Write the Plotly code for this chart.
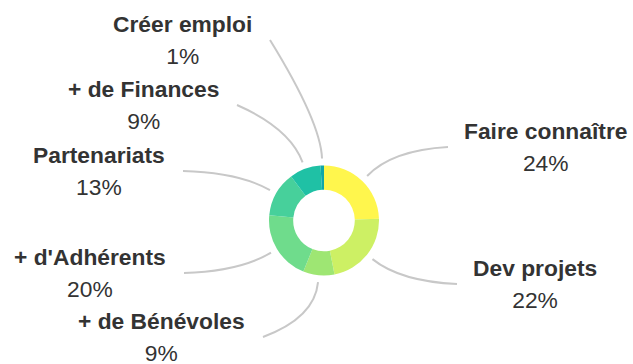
import math
import plotly.graph_objects as go

# data (clockwise from 12 o'clock)
labels = ["Faire connaître", "Dev projets", "+ de Bénévoles", "+ d'Adhérents",
          "Partenariats", "+ de Finances", "Créer emploi"]
values = [24, 22, 9, 20, 13, 9, 1]
colors = ["#FFF64D", "#CDF064", "#9EE673", "#6FDC8C", "#47D09B", "#1FC1A5", "#10A6A8"]

# where each leader line ends (pixels, y down) and which side the label sits on
label_ends = [(448, 147), (457, 284), (263, 337), (184, 273), (183, 171), (237, 105), (270, 40)]
label_side = [1, 1, -1, -1, -1, -1, -1]

W, H = 633, 364
cx, cy, r = 324, 220.5, 55   # donut centre / radius in pixels


def px(x, y):
    return x / W, 1 - y / H


fig = go.Figure(go.Pie(
    labels=labels, values=values, sort=False, direction="clockwise", rotation=0,
    hole=0.56, marker=dict(colors=colors, line=dict(width=0)),
    textinfo="none", hoverinfo="label+percent", showlegend=False,
    domain=dict(x=[(cx - r) / W, (cx + r) / W], y=[(H - cy - r) / H, (H - cy + r) / H]),
))

shapes = []
annotations = []
total = sum(values)
cum = 0
for lab, v, (ex, ey), side in zip(labels, values, label_ends, label_side):
    mid = (cum + v / 2) / total * 2 * math.pi
    cum += v
    dx, dy = math.sin(mid), -math.cos(mid)
    sx, sy = cx + 62 * dx, cy + 62 * dy
    qx, qy = cx + 98 * dx, cy + 98 * dy
    a, b, c = px(sx, sy), px(qx, qy), px(ex, ey)
    shapes.append(dict(
        type="path", xref="paper", yref="paper",
        path=f"M {a[0]},{a[1]} Q {b[0]},{b[1]} {c[0]},{c[1]}",
        line=dict(color="#c8c8c8", width=2),
    ))
    tx, ty = px(ex + side * (14 if side > 0 else 16), ey)
    # base size sets the line gap, inner spans set the glyph size
    annotations.append(dict(
        xref="paper", yref="paper", x=tx, y=ty,
        xanchor="left" if side > 0 else "right", yanchor="middle", align="center",
        text=(f"<span style='font-size:22.8px'><b>{lab}</b></span><br>"
              f"<span style='font-size:22.8px'>{v}%</span>"),
        showarrow=False,
        font=dict(family="Liberation Sans, Arial", size=24.6, color="#333333"),
    ))

fig.update_layout(
    width=W, height=H, margin=dict(l=0, r=0, t=0, b=0),
    paper_bgcolor="white", plot_bgcolor="white",
    shapes=shapes, annotations=annotations,
)

# drop the page's default body margin so the figure fills the window
fig.write_html("out.html", config={"displayModeBar": False},
               post_script="document.body.style.margin='0';"
                           "document.body.style.overflow='hidden';")
